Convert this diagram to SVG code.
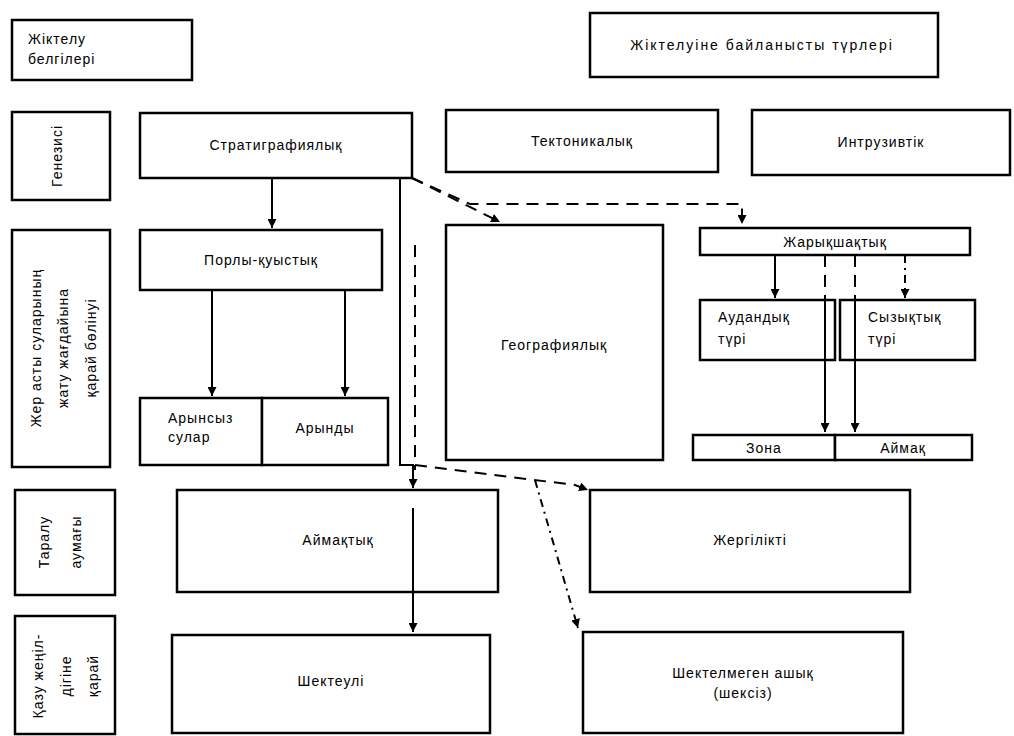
<svg xmlns="http://www.w3.org/2000/svg" width="1014" height="736" viewBox="0 0 1014 736">
<style>
.b{fill:#fff;stroke:#000;stroke-width:2.5}
.t{font-family:"Liberation Sans",Arial,sans-serif;font-size:14px;letter-spacing:1px;fill:#000}
.c{text-anchor:middle;dominant-baseline:central}
.s{fill:none;stroke:#000;stroke-width:2}
.d{fill:none;stroke:#000;stroke-width:2;stroke-dasharray:12 8}
.dd{fill:none;stroke:#000;stroke-width:2;stroke-dasharray:8 5 2 5}
</style>
<defs>
<marker id="a" viewBox="0 0 10 10" refX="10" refY="5" markerWidth="9" markerHeight="9" markerUnits="userSpaceOnUse" orient="auto"><path d="M0,0L10,5L0,10z" fill="#000"/></marker>
</defs>
<rect width="1014" height="736" fill="#fff"/>

<g id="n-header-left"><rect class="b" x="12" y="20" width="180" height="60"/><text class="t" x="28" y="44">Жіктелу</text><text class="t" x="28" y="64">белгілері</text></g>
<g id="n-header-right"><rect class="b" x="590" y="13" width="348" height="64"/><text class="t c" x="762" y="45" style="letter-spacing:2px">Жіктелуіне байланысты түрлері</text></g>

<g id="n-row1"><rect class="b" x="12" y="112" width="98" height="88"/><text class="t c" transform="translate(57,156) rotate(-90)">Генезисі</text></g>
<g id="n-strat"><rect class="b" x="140" y="113" width="272" height="65"/><text class="t c" x="276" y="145">Стратиграфиялық</text></g>
<g id="n-tekt"><rect class="b" x="446" y="110" width="272" height="62"/><text class="t c" x="582" y="141">Тектоникалық</text></g>
<g id="n-intr"><rect class="b" x="752" y="110" width="258" height="65"/><text class="t c" x="881" y="142">Интрузивтік</text></g>

<g id="n-row2"><rect class="b" x="12" y="230" width="98" height="237"/>
<text class="t c" transform="translate(36,348) rotate(-90)">Жер асты суларының</text>
<text class="t c" transform="translate(63,348) rotate(-90)">жату жағдайына</text>
<text class="t c" transform="translate(91,348) rotate(-90)">қарай бөлінуі</text></g>
<g id="n-por"><rect class="b" x="140" y="230" width="242" height="60"/><text class="t c" x="261" y="260">Порлы-қуыстық</text></g>
<g id="n-qu"><rect class="b" x="140" y="398" width="122" height="67"/><text class="t" x="168" y="423">Арынсыз</text><text class="t" x="168" y="442">сулар</text></g>
<g id="n-ar"><rect class="b" x="262" y="398" width="126" height="67"/><text class="t c" x="325" y="428">Арынды</text></g>
<g id="n-geo"><rect class="b" x="446" y="225" width="217" height="235"/><text class="t c" x="554" y="345">Географиялық</text></g>
<g id="n-zhar"><rect class="b" x="700" y="228" width="270" height="27"/><text class="t c" x="835" y="242">Жарықшақтық</text></g>
<g id="n-aud"><rect class="b" x="700" y="300" width="135" height="60"/><text class="t" x="718" y="322">Аудандық</text><text class="t" x="718" y="344">түрі</text></g>
<g id="n-syz"><rect class="b" x="840" y="300" width="135" height="60"/><text class="t" x="868" y="322">Сызықтық</text><text class="t" x="868" y="344">түрі</text></g>
<g id="n-zona"><rect class="b" x="693" y="435" width="142" height="25"/><text class="t c" x="764" y="448">Зона</text></g>
<g id="n-aimaq"><rect class="b" x="835" y="435" width="137" height="25"/><text class="t c" x="903" y="448">Аймақ</text></g>

<g id="n-row3"><rect class="b" x="15" y="490" width="100" height="105"/>
<text class="t c" transform="translate(44,542) rotate(-90)">Таралу</text>
<text class="t c" transform="translate(76,542) rotate(-90)">аумағы</text></g>
<g id="n-aim"><rect class="b" x="177" y="490" width="321" height="102"/><text class="t c" x="338" y="540">Аймақтық</text></g>
<g id="n-zher"><rect class="b" x="590" y="490" width="320" height="102"/><text class="t c" x="750" y="540">Жергілікті</text></g>

<g id="n-row4"><rect class="b" x="15" y="616" width="100" height="118"/>
<text class="t c" transform="translate(38,676) rotate(-90)">Қазу жеңіл-</text>
<text class="t c" transform="translate(66,676) rotate(-90)">дігіне</text>
<text class="t c" transform="translate(93,676) rotate(-90)">қарай</text></g>
<g id="n-shek"><rect class="b" x="172" y="635" width="318" height="98"/><text class="t c" x="331" y="681">Шектеулі</text></g>
<g id="n-ashyq"><rect class="b" x="583" y="632" width="320" height="101"/><text class="t c" x="743" y="673">Шектелмеген ашық</text><text class="t c" x="743" y="693">(шексіз)</text></g>

<g id="connectors">
<path class="s" d="M272,178V228" marker-end="url(#a)"/>
<path class="s" d="M212,290V396" marker-end="url(#a)"/>
<path class="s" d="M345,290V396" marker-end="url(#a)"/>
<path class="s" d="M400,178V465H413V488" marker-end="url(#a)"/>
<path class="s" d="M413,508V632" marker-end="url(#a)"/>
<path class="d" d="M415,245V470"/>
<path class="d" d="M412,178L500,222" marker-end="url(#a)"/>
<path class="d" d="M412,178L470,204H742V224" marker-end="url(#a)"/>
<path class="d" d="M415,465L575,485L588,490" marker-end="url(#a)"/>
<path class="dd" d="M535,480L578,628" marker-end="url(#a)"/>
<path class="s" d="M775,255V298" marker-end="url(#a)"/>
<path class="dd" d="M905,255V298" marker-end="url(#a)"/>
<path class="d" d="M825,255V300"/>
<path class="s" d="M825,300V432" marker-end="url(#a)"/>
<path class="d" d="M855,255V300"/>
<path class="s" d="M855,300V432" marker-end="url(#a)"/>
</g>
</svg>
